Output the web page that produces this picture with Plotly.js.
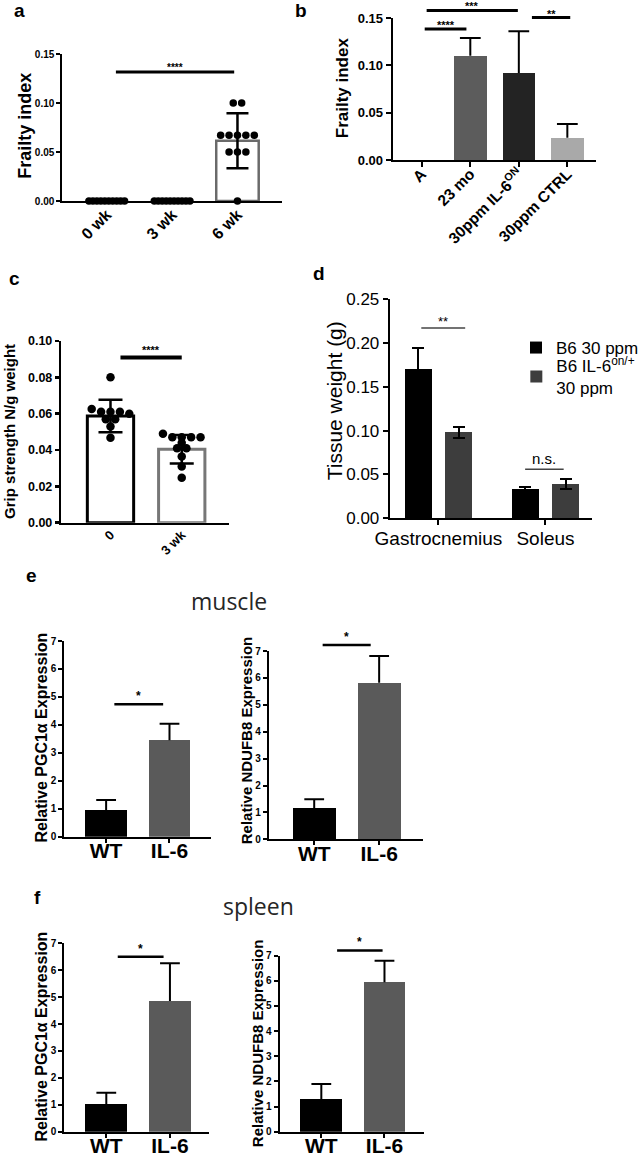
<!DOCTYPE html>
<html><head><meta charset="utf-8">
<script src="https://cdn.plot.ly/plotly-3.0.1.min.js"></script>
<style>html,body{margin:0;padding:0;background:#fff}#chart{width:644px;height:1156px}</style>
</head><body><div id="chart"></div>
<script>
// ================= DATA =================
// Panel a : frailty index over time
const aCategories = ['0 wk', '3 wk', '6 wk'];
const aMeans = [0, 0, 0.0615];
const aSD = [null, null, 0.028];
const aPoints0wk = [0, 0, 0, 0, 0, 0, 0, 0, 0, 0];
const aPoints3wk = [0, 0, 0, 0, 0, 0, 0, 0, 0, 0];
const aPoints6wk = [0.10, 0.10, 0.067, 0.067, 0.067, 0.067, 0.067, 0.05, 0.05, 0.05, 0];
const aSig = [{from: 0.14, to: 1.95, y: 0.1316, label: '****'}];

// Panel b : frailty index by group
const bCategories = ['A', '23 mo', '30ppm IL-6<sup>ON</sup>', '30ppm CTRL'];
const bMeans = [0, 0.110, 0.092, 0.0236];
const bSD = [null, 0.019, 0.044, 0.0144];
const bSig = [
  {from: 0.06, to: 0.92, y: 0.1385, label: '****'},
  {from: 0.10, to: 1.98, y: 0.158, label: '***'},
  {from: 2.27, to: 3.06, y: 0.1504, label: '**'}
];

// Panel c : grip strength
const cCategories = ['0', '3 wk'];
const cMeans = [0.0587, 0.0404];
const cSD = [0.0089, 0.0078];
const cPoints0 = [0.080, 0.0626, 0.061, 0.061, 0.061, 0.060, 0.057, 0.057, 0.0529, 0.0468];
const cPoints3wk = [0.049, 0.047, 0.047, 0.047, 0.047, 0.044, 0.041, 0.041, 0.0364, 0.0309, 0.0248];
const cSig = [{from: 0.14, to: 1.0, y: 0.0909, label: '****'}];

// Panel d : tissue weight
const dCategories = ['Gastrocnemius', 'Soleus'];
const dSeriesNames = ['B6 30 ppm', 'B6 IL-6<sup>on/+</sup><br>30 ppm'];
const dB6Means = [0.170, 0.033];
const dB6SD = [0.0236, 0.003];
const dIL6Means = [0.098, 0.0387];
const dIL6SD = [0.006, 0.0057];
const dSig = [
  {from: -0.16, to: 0.25, y: 0.217, label: '**'},
  {from: 0.81, to: 1.17, y: 0.056, label: 'n.s.'}
];

// Panel e (muscle) and f (spleen) : relative expression
const exprCategories = ['WT', 'IL-6'];
const eMusclePGC1a = [0.955, 3.45];
const eMusclePGC1aErr = [0.355, 0.59];
const eMuscleNDUFB8 = [1.15, 5.82];
const eMuscleNDUFB8Err = [0.34, 0.99];
const fSpleenPGC1a = [1.02, 4.86];
const fSpleenPGC1aErr = [0.43, 1.40];
const fSpleenNDUFB8 = [1.30, 5.94];
const fSpleenNDUFB8Err = [0.60, 0.86];
const eSigPGC1a = [{from: 0.13, to: 0.90, y: 4.74, label: '*'}];
const eSigNDUFB8 = [{from: 0.13, to: 0.87, y: 7.22, label: '*'}];
const fSigPGC1a = [{from: 0.18, to: 0.90, y: 6.5, label: '*'}];
const fSigNDUFB8 = [{from: 0.25, to: 0.97, y: 7.21, label: '*'}];

// ================= LAYOUT HELPERS =================
const W = 644, H = 1156;
const FONT = 'Liberation Sans, Arial, Helvetica, sans-serif';
const layout = {
  width: W, height: H, margin: {l: 0, r: 0, t: 0, b: 0},
  paper_bgcolor: '#ffffff', plot_bgcolor: 'rgba(0,0,0,0)',
  barmode: 'group', bargap: 0, bargroupgap: 0,
  font: {family: FONT, color: '#000'},
  showlegend: true,
  legend: {x: 522 / W, y: 1 - 330 / H, xanchor: 'left', yanchor: 'top',
    bgcolor: 'rgba(0,0,0,0)', font: {family: FONT, size: 17, color: '#000'}},
  legend2: {x: 522 / W, y: 1 - 348 / H, xanchor: 'left', yanchor: 'top', valign: 'middle',
    bgcolor: 'rgba(0,0,0,0)', font: {family: FONT, size: 17, color: '#000'}},
  shapes: [], annotations: []
};
const traces = [];

function ids(n) {
  return {xid: n === 1 ? 'x' : 'x' + n, yid: n === 1 ? 'y' : 'y' + n,
          xk: n === 1 ? 'xaxis' : 'xaxis' + n, yk: n === 1 ? 'yaxis' : 'yaxis' + n};
}

function addAxes(s) {
  const k = ids(s.n);
  layout[k.xk] = {
    domain: [s.xpx[0] / W, s.xpx[1] / W], range: s.xr, anchor: k.yid, type: 'linear',
    tickmode: 'array', tickvals: s.cats.map((_, i) => i), ticktext: s.cats,
    showline: true, linecolor: '#000', linewidth: s.lw, showgrid: false, zeroline: false,
    ticks: s.xticks === false ? '' : 'outside', ticklen: s.xticklen, tickwidth: s.lw, tickcolor: '#000',
    ticklabelstandoff: s.xstandoff || 0,
    tickangle: s.xangle, tickfont: {family: FONT, size: s.xfs, weight: s.wt, color: '#000'},
    fixedrange: true
  };
  layout[k.yk] = {
    domain: [1 - s.ypx[1] / H, 1 - s.ypx[0] / H], range: s.yr, anchor: k.xid, type: 'linear',
    tickmode: 'linear', tick0: 0, dtick: s.dtick, tickformat: s.fmt,
    showline: true, linecolor: '#000', linewidth: s.lw, showgrid: false, zeroline: false,
    ticks: 'outside', ticklen: s.yticklen, tickwidth: s.lw, tickcolor: '#000',
    tickfont: {family: FONT, size: s.yfs, weight: s.wt, color: '#000'},
    fixedrange: true
  };
  // y-axis title, placed beside the axis
  layout.annotations.push({xref: 'paper', yref: 'paper', x: s.titlePos[0] / W, y: 1 - s.titlePos[1] / H,
    text: s.ytitle, textangle: -90, showarrow: false, xanchor: 'center', yanchor: 'middle',
    font: {family: FONT, size: s.tfs, weight: s.twt || s.wt, color: '#000'}});
  return k;
}

function addSig(s, sigs, st) {
  const k = ids(s.n);
  sigs.forEach(g => {
    const yd = g.y / s.yr[1];
    layout.shapes.push({type: 'line', xref: k.xid, yref: k.yid + ' domain', x0: g.from, x1: g.to, y0: yd, y1: yd,
      line: {color: st.color || '#000', width: st.width}});
    layout.annotations.push({xref: k.xid, yref: k.yid + ' domain', x: (g.from + g.to) / 2, y: yd,
      text: g.label, showarrow: false, yanchor: 'bottom', yshift: st.yshift,
      font: {family: FONT, size: st.fs, weight: st.wt, color: '#000'}});
  });
}

// rows of dots, spread horizontally around the category centre
function spreadX(values, center, s, diam, maxSpan, rowTol) {
  const pxu = (s.xpx[1] - s.xpx[0]) / (s.xr[1] - s.xr[0]);
  const pyu = (s.ypx[1] - s.ypx[0]) / (s.yr[1] - s.yr[0]);
  const order = values.map((v, i) => i).sort((i, j) => values[j] - values[i]);
  const rows = [];
  order.forEach(i => {
    const last = rows[rows.length - 1];
    if (last && Math.abs(last.v0 - values[i]) * pyu < rowTol) last.items.push(i);
    else rows.push({v0: values[i], items: [i]});
  });
  const xs = new Array(values.length);
  rows.forEach(r => {
    const n = r.items.length;
    const step = n > 1 ? Math.min(diam, maxSpan / (n - 1)) : 0;
    r.items.forEach((i, q) => { xs[i] = center + ((q - (n - 1) / 2) * step) / pxu; });
  });
  return xs;
}

// error bars drawn as separate, invisible-marker scatter traces
function addErr(s, k, xs, means, errs, oneSided, st) {
  const pxu = (s.xpx[1] - s.xpx[0]) / (s.xr[1] - s.xr[0]);
  const base = {type: 'scatter', mode: 'markers', xaxis: k.xid, yaxis: k.yid, showlegend: false, cliponaxis: false,
    hoverinfo: 'skip', marker: {size: 1, color: 'rgba(0,0,0,0)'}};
  const ys = means.map((m, i) => errs[i] == null ? null : m);
  if (!oneSided) {
    traces.push(Object.assign({}, base, {x: xs, y: ys,
      error_y: {type: 'data', symmetric: true, array: errs.map(e => e == null ? 0 : e), color: '#000', thickness: st.thick, width: st.cap}}));
  } else {
    traces.push(Object.assign({}, base, {x: xs, y: ys,
      error_y: {type: 'data', symmetric: false, array: errs.map(e => e == null ? 0 : e), arrayminus: errs.map(() => 0),
        color: '#000', thickness: st.thick, width: 0}}));
    traces.push(Object.assign({}, base, {x: xs, y: means.map((m, i) => errs[i] == null ? null : m + errs[i]),
      error_x: {type: 'data', symmetric: true, array: xs.map(() => st.cap / pxu), color: '#000', thickness: st.thick, width: 0}}));
  }
}

// ================= PANEL a =================
const sA = {n: 1, xpx: [63, 285], ypx: [54, 201], xr: [-0.68, 2.68], yr: [0, 0.15], dtick: 0.05, fmt: '.2f',
  cats: aCategories, lw: 2, wt: 'bold', xfs: 16, yfs: 10, tfs: 18, xangle: -45, xticks: false, xticklen: 0, xstandoff: -4,
  yticklen: 4, ytitle: 'Frailty index', titlePos: [25, 126]};
{
  const k = addAxes(sA);
  traces.push({type: 'bar', x: [0, 1, 2], y: aMeans, width: 0.65, xaxis: k.xid, yaxis: k.yid, showlegend: false,
    marker: {color: '#ffffff', line: {color: '#6a6a6a', width: 2.5}}});
  addErr(sA, k, [0, 1, 2], aMeans, aSD, false, {thick: 2.5, cap: 11});
  [aPoints0wk, aPoints3wk, aPoints6wk].forEach((vals, g) => {
    traces.push({type: 'scatter', mode: 'markers', x: spreadX(vals, g, sA, 8.5, 36, 3), y: vals,
      xaxis: k.xid, yaxis: k.yid, showlegend: false, cliponaxis: false,
      marker: {color: '#000', size: 7.5}});
  });
  addSig(sA, aSig, {width: 3, fs: 10, wt: 'bold', yshift: -3});
}

// ================= PANEL b =================
const sB = {n: 2, xpx: [397, 603], ypx: [18, 160], xr: [-0.60, 3.6], yr: [0, 0.15], dtick: 0.05, fmt: '.2f',
  cats: bCategories, lw: 2, wt: 'bold', xfs: 15.5, yfs: 13, tfs: 17, xangle: -45, xticklen: 5, xstandoff: -8,
  yticklen: 5, ytitle: 'Frailty index', titlePos: [346, 88]};
{
  const k = addAxes(sB);
  traces.push({type: 'bar', x: [0, 1, 2, 3], y: bMeans, width: 0.67, xaxis: k.xid, yaxis: k.yid, showlegend: false,
    marker: {color: ['#000000', '#5c5c5c', '#232323', '#a9a9a9'], line: {width: 0}}});
  addErr(sB, k, [0, 1, 2, 3], bMeans, bSD, true, {thick: 2, cap: 10.5});
  addSig(sB, bSig, {width: 3, fs: 11, wt: 'bold', yshift: -4});
}

// ================= PANEL c =================
const sC = {n: 3, xpx: [62, 232], ypx: [341, 522.7], xr: [-0.69, 1.67], yr: [0, 0.10], dtick: 0.02, fmt: '.2f',
  cats: cCategories, lw: 2.5, wt: 'bold', xfs: 13, yfs: 12.5, tfs: 15, xangle: -45, xticks: false, xticklen: 0, xstandoff: -3,
  yticklen: 4, ytitle: 'Grip strength N/g weight', titlePos: [9, 431]};
{
  const k = addAxes(sC);
  traces.push({type: 'bar', x: [0, 1], y: cMeans, width: 0.65, xaxis: k.xid, yaxis: k.yid, showlegend: false,
    marker: {color: '#ffffff', line: {color: ['#000000', '#777777'], width: 3}}});
  addErr(sC, k, [0, 1], cMeans, cSD, false, {thick: 2.5, cap: 12});
  [cPoints0, cPoints3wk].forEach((vals, g) => {
    traces.push({type: 'scatter', mode: 'markers', x: spreadX(vals, g, sC, 9.5, 44, 5), y: vals,
      xaxis: k.xid, yaxis: k.yid, showlegend: false, cliponaxis: false,
      marker: {color: '#000', size: 8.5}});
  });
  addSig(sC, cSig, {width: 4, fs: 11, wt: 'bold', yshift: 0});
}

// ================= PANEL d =================
const sD = {n: 4, xpx: [394, 598], ypx: [299, 518.3], xr: [-0.455, 1.43], yr: [0, 0.25], dtick: 0.05, fmt: '.2f',
  cats: dCategories, lw: 2, wt: 'normal', xfs: 19, yfs: 17, tfs: 21, xangle: 0, xticklen: 5, xstandoff: -3,
  yticklen: 5, ytitle: 'Tissue weight (g)', titlePos: [339, 401]};
{
  const k = addAxes(sD);
  traces.push({type: 'bar', name: dSeriesNames[0], legend: 'legend', x: [0, 1], y: dB6Means, width: 0.25, offset: -0.314,
    xaxis: k.xid, yaxis: k.yid, showlegend: true, marker: {color: '#000000', line: {width: 0}},
    error_y: {type: 'data', array: dB6SD, color: '#000', thickness: 2, width: 6}});
  traces.push({type: 'bar', name: dSeriesNames[1], legend: 'legend2', x: [0, 1], y: dIL6Means, width: 0.25, offset: 0.065,
    xaxis: k.xid, yaxis: k.yid, showlegend: true, marker: {color: '#3d3d3d', line: {width: 0}},
    error_y: {type: 'data', array: dIL6SD, color: '#000', thickness: 2, width: 6}});
  addSig(sD, [dSig[0]], {width: 1.5, color: '#444', fs: 13, wt: 'normal', yshift: -3});
  addSig(sD, [dSig[1]], {width: 1.5, color: '#444', fs: 15, wt: 'normal', yshift: 0});
}

// ================= PANELS e / f =================
const exprPanels = [
  {n: 5, xpx: [65, 213], ypx: [641, 836.7], xr: [-0.66, 1.65], vals: eMusclePGC1a, err: eMusclePGC1aErr, sig: eSigPGC1a,
   ytitle: 'Relative PGC1α Expression', tfs: 16, titlePos: [41, 738]},
  {n: 6, xpx: [271.7, 427.3], ypx: [651, 839.3], xr: [-0.70, 1.67], vals: eMuscleNDUFB8, err: eMuscleNDUFB8Err, sig: eSigNDUFB8,
   ytitle: 'Relative NDUFB8 Expression', tfs: 15, titlePos: [249, 740]},
  {n: 7, xpx: [65, 211.7], ypx: [943.3, 1131.7], xr: [-0.66, 1.62], vals: fSpleenPGC1a, err: fSpleenPGC1aErr, sig: fSigPGC1a,
   ytitle: 'Relative PGC1α Expression', tfs: 16, titlePos: [41, 1037]},
  {n: 8, xpx: [282.7, 428.3], ypx: [955.7, 1131.7], xr: [-0.66, 1.62], vals: fSpleenNDUFB8, err: fSpleenNDUFB8Err, sig: fSigNDUFB8,
   ytitle: 'Relative NDUFB8 Expression', tfs: 15, titlePos: [260, 1043]}
];
exprPanels.forEach(p => {
  const s = Object.assign({yr: [0, 7], dtick: 1, fmt: 'd', cats: exprCategories, lw: 2, wt: 'bold', xfs: 21, yfs: 10,
    xangle: 0, xticklen: 4, xstandoff: -10, yticklen: 4}, p);
  const k = addAxes(s);
  traces.push({type: 'bar', x: [0, 1], y: p.vals, width: 0.66, xaxis: k.xid, yaxis: k.yid, showlegend: false,
    marker: {color: ['#000000', '#5a5a5a'], line: {width: 0}}});
  addErr(s, k, [0, 1], p.vals, p.err, true, {thick: 2, cap: 10});
  addSig(s, p.sig, {width: 2.5, fs: 12, wt: 'bold', yshift: -1});
});

// ================= PANEL LETTERS & SECTION TITLES =================
const panelLetters = [['a', 20, 10], ['b', 304, 10], ['c', 15, 278], ['d', 322, 273], ['e', 32, 575], ['f', 38, 897]];
panelLetters.forEach(([t, x, y]) => layout.annotations.push({xref: 'paper', yref: 'paper', x: x / W, y: 1 - y / H,
  text: t, showarrow: false, xanchor: 'center', yanchor: 'middle',
  font: {family: FONT, size: 19, weight: 'bold', color: '#000'}}));
const sectionTitles = [['muscle', 232, 601], ['spleen', 261, 906]];
sectionTitles.forEach(([t, x, y]) => layout.annotations.push({xref: 'paper', yref: 'paper', x: x / W, y: 1 - y / H,
  text: t, showarrow: false, xanchor: 'center', yanchor: 'middle',
  font: {family: 'Open Sans, Noto Sans, sans-serif', size: 23, color: '#262626'}}));

Plotly.newPlot('chart', traces, layout, {staticPlot: true, displayModeBar: false});
</script>
</body></html>
